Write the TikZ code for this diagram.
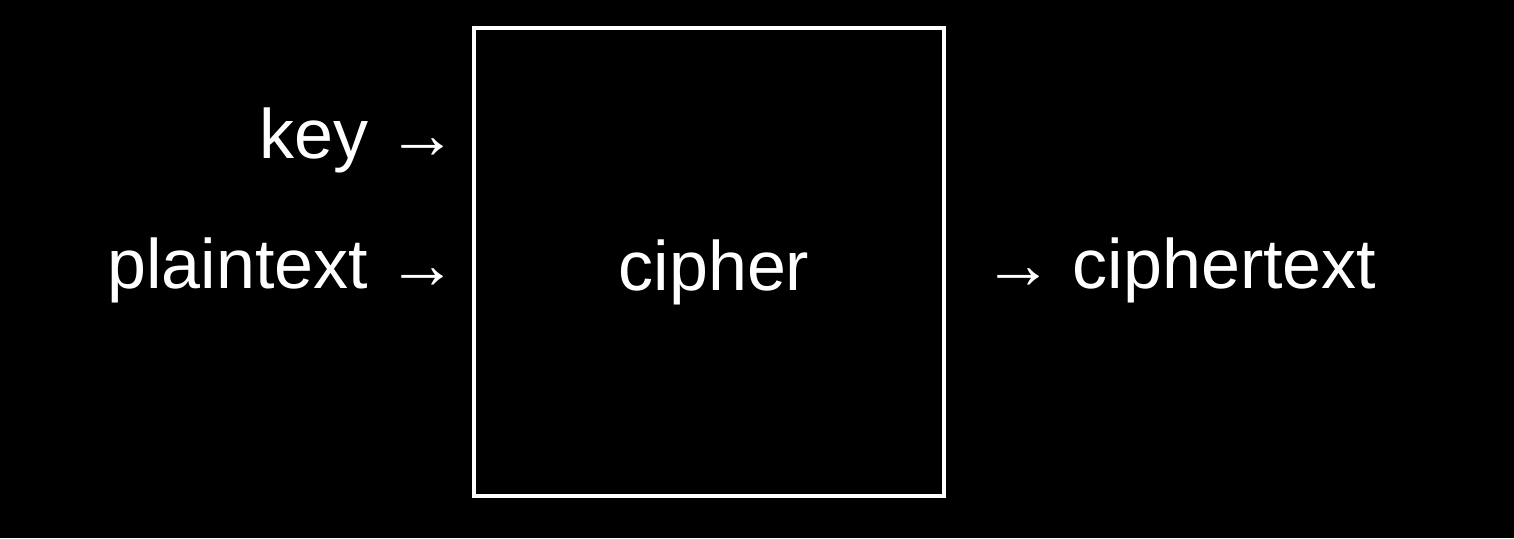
\documentclass[tikz,border=0pt]{standalone}
\usepackage{fontspec}
\setmainfont{Liberation Sans}
\begin{document}
\begin{tikzpicture}[x=0.5pt,y=-0.5pt,
  lbl/.style={text=white,font=\fontsize{35pt}{40pt}\selectfont,inner sep=0pt}]
\fill[black] (0,0) rectangle (1514,538);
\useasboundingbox (0,0) rectangle (1514,538);
\node[draw=white,line width=2pt,minimum width=235pt,minimum height=234pt,inner sep=0pt] (box) at (709,262) {};
\node[lbl,anchor=base] (ciph) at (714,290) {cipher};
\node[lbl,anchor=base east] (key) at (458,158) {key →};
\node[lbl,anchor=base east] (pt) at (458,288) {plaintext →};
\node[lbl,anchor=base west] (ct) at (983,288) {→ ciphertext};
\end{tikzpicture}
\end{document}
